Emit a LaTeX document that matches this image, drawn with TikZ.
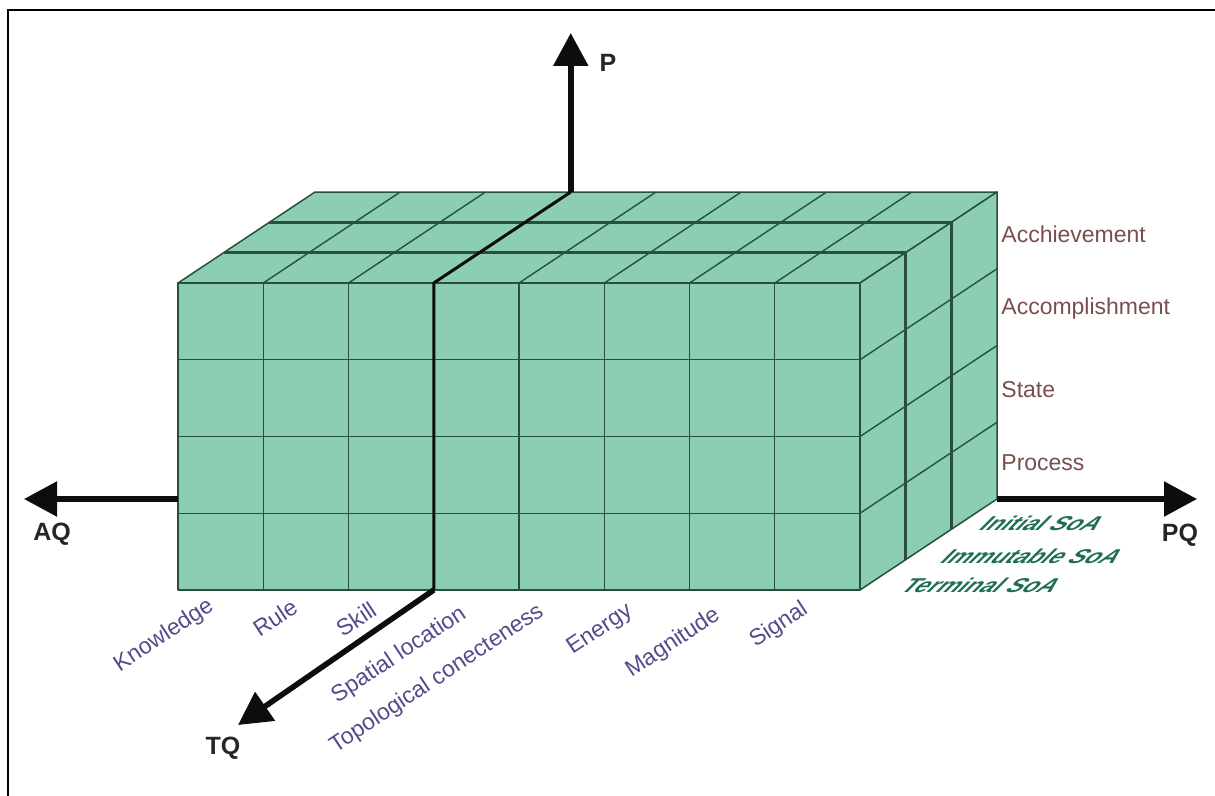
\documentclass[tikz,border=0pt]{standalone}
\usepackage{fontspec}
\setmainfont{Liberation Sans}
\newfontfamily\soafont[FakeSlant=1.0,FakeStretch=1.2]{Liberation Sans Bold}
\usetikzlibrary{arrows.meta}
\definecolor{cubefill}{RGB}{140,206,178}
\definecolor{cubeline}{RGB}{40,80,60}
\definecolor{qlabel}{RGB}{122,78,78}
\definecolor{tlabel}{RGB}{90,72,140}
\definecolor{soacol}{RGB}{30,110,80}
\begin{document}
\begin{tikzpicture}[x=0.5pt,y=-0.5pt,
  face/.style={fill=cubefill,draw=cubeline,line width=0.75pt,line join=round},
  gridline/.style={draw=cubeline,line width=0.7pt},
  layer/.style={draw=cubeline,line width=1.6pt},
  axis/.style={line width=2.8pt,draw=black!95},
  axtip/.style={-{Triangle[width=17pt,length=16.5pt]}},
  axlabel/.style={font=\fontsize{12.5}{14}\selectfont\bfseries,text=black!85,inner sep=0pt},
  qual/.style={font=\fontsize{11.5}{13}\selectfont,text=qlabel,inner sep=0pt,anchor=base west},
  typ/.style={font=\fontsize{11.5}{13}\selectfont,text=tlabel,inner sep=0pt,rotate=33.5},
  soa/.style={font=\fontsize{10}{12}\soafont,text=soacol,inner sep=0pt}
]
\useasboundingbox (0,0) rectangle (1215,796);
\draw[line width=1.2pt] (8,796) -- (8,10) -- (1215,10);

% slabs, back to front
\foreach \k in {2,1,0} {
  \pgfmathsetmacro\ox{\k*45.67}
  \pgfmathsetmacro\oy{-\k*30.33}
  \begin{scope}[shift={(\ox,\oy)}]
    \draw[face] (178,283) rectangle (860,590);
    \draw[face] (178,283) -- (860,283) -- (905.67,252.67) -- (223.67,252.67) -- cycle;
    \draw[face] (860,283) -- (905.67,252.67) -- (905.67,559.67) -- (860,590) -- cycle;
    \foreach \i in {1,...,7} {
      \draw[gridline] (178+\i*85.25,283) -- ++(45.67,-30.33);
      \draw[gridline] (178+\i*85.25,283) -- (178+\i*85.25,590);
    }
    \foreach \j in {1,2,3} {
      \draw[gridline] (860,283+\j*76.75) -- ++(45.67,-30.33);
      \draw[gridline] (178,283+\j*76.75) -- (860,283+\j*76.75);
    }
  \end{scope}
}
\foreach \k in {1,2} {
  \draw[layer] (178+\k*45.67,283-\k*30.33) -- (860+\k*45.67,283-\k*30.33) -- (860+\k*45.67,590-\k*30.33);
}

% axes
\coordinate (o) at (433.75,590);
\coordinate (f) at (433.75,283);
\coordinate (b) at (570.75,192);
\coordinate (ptip) at (570.75,33);
\coordinate (tqtip) at (238,725);
\coordinate (aqs) at (178,499);
\coordinate (aqtip) at (24,499);
\coordinate (pqs) at (997,499);
\coordinate (pqtip) at (1197,499);
\draw[line width=1.5pt,black!95,line join=round] (o) -- (f) -- (b);
\draw[axis,axtip] (b) -- (ptip);
\draw[axis,axtip] (o) -- (tqtip);
\draw[axis,axtip] (aqs) -- (aqtip);
\draw[axis,axtip] (pqs) -- (pqtip);

\node[axlabel] (lP) at (608,63) {P};
\node[axlabel] (lTQ) at (223,748) {TQ};
\node[axlabel] (lAQ) at (52,534) {AQ};
\node[axlabel] (lPQ) at (1180,535) {PQ};

% qualities
\node[qual] (q1) at (1001,243) {Acchievement};
\node[qual] (q2) at (1001,315) {Accomplishment};
\node[qual] (q3) at (1001,398) {State};
\node[qual] (q4) at (1001,470) {Process};

% types
\node[typ] (t1) at (164,636) {Knowledge};
\node[typ] (t2) at (275,618) {Rule};
\node[typ] (t3) at (356,619) {Skill};
\node[typ] (t4) at (399,655) {Spatial location};
\node[typ] (t5) at (437,679) {Topological conecteness};
\node[typ] (t6) at (600,630) {Energy};
\node[typ] (t7) at (673,643) {Magnitude};
\node[typ] (t8) at (779,625) {Signal};

% states of affairs
\node[soa] (s1) at (1036,523) {Initial SoA};
\node[soa] (s2) at (1026,556) {Immutable SoA};
\node[soa] (s3) at (975,585) {Terminal SoA};
\end{tikzpicture}
\end{document}
